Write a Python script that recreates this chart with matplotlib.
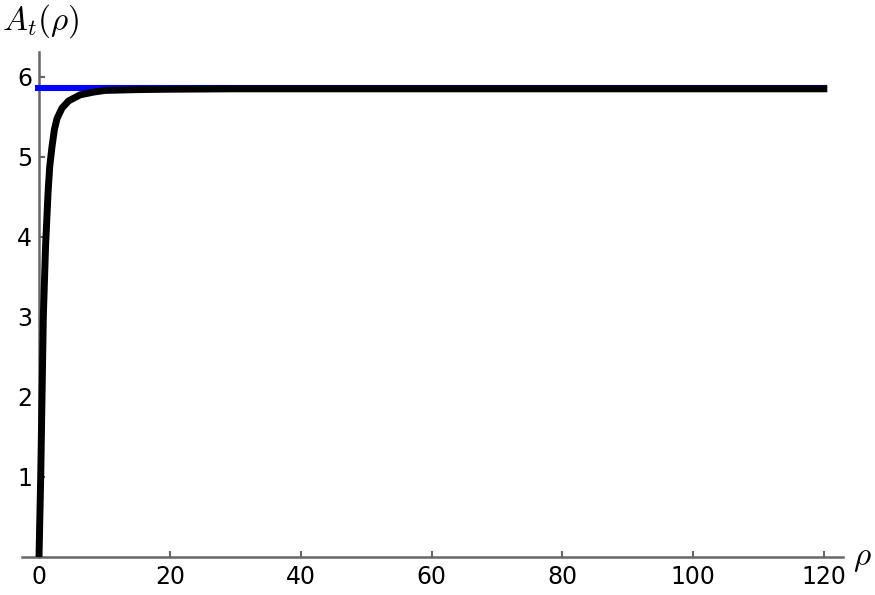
import numpy as np
import matplotlib
matplotlib.use("Agg")
import matplotlib.pyplot as plt

plt.rcParams['mathtext.fontset'] = 'cm'

# curve
rho = [0, 0.26, 0.46, 0.66, 1.0, 1.38, 1.64, 1.99, 2.35, 2.76, 3.52, 4.54,
       6.3, 8.4, 10.1, 15, 20, 30, 50, 80, 120.5]
A_t = [0, 1, 2, 3, 3.88, 4.55, 4.88, 5.13, 5.34, 5.48, 5.61, 5.70,
       5.775, 5.81, 5.83, 5.84, 5.845, 5.85, 5.85, 5.85, 5.85]

# horizontal asymptote
asym_rho = [-0.6, 120.5]
asym_val = 5.855

x_ticks = [0, 20, 40, 60, 80, 100, 120]
y_ticks = [1, 2, 3, 4, 5, 6]

W, H = 875, 595
fig = plt.figure(figsize=(W / 100, H / 100), dpi=100)
ax = fig.add_axes([22 / W, 1 - 557 / H, 821 / W, 505 / H])

ax.plot(asym_rho, [asym_val, asym_val], color='#0000ff', lw=4.4,
        solid_capstyle='butt', zorder=3)
ax.plot(rho, A_t, color='black', lw=5.0, solid_capstyle='butt',
        solid_joinstyle='round', zorder=4)

ax.set_xlim(-2.6, 122.9)
ax.set_ylim(0, 6.31)

for s in ['top', 'right']:
    ax.spines[s].set_visible(False)
ax.spines['left'].set_position(('data', 0))
for s in ['left', 'bottom']:
    ax.spines[s].set_color('#666666')
    ax.spines[s].set_linewidth(1.8)

ax.set_xticks(x_ticks)
ax.set_yticks(y_ticks)
ax.tick_params(direction='in', length=4, width=1.5, color='#666666',
               labelsize=17, labelcolor='black')
ax.tick_params(axis='x', pad=6)
ax.tick_params(axis='y', pad=5)

fig.text(41 / W, 1 - 21 / H, r'$A_t(\rho)$', fontsize=24,
         ha='center', va='center')
fig.text(862 / W, 1 - 557 / H, r'$\rho$', fontsize=24,
         ha='center', va='center')

fig.savefig('out.png', dpi=100)
